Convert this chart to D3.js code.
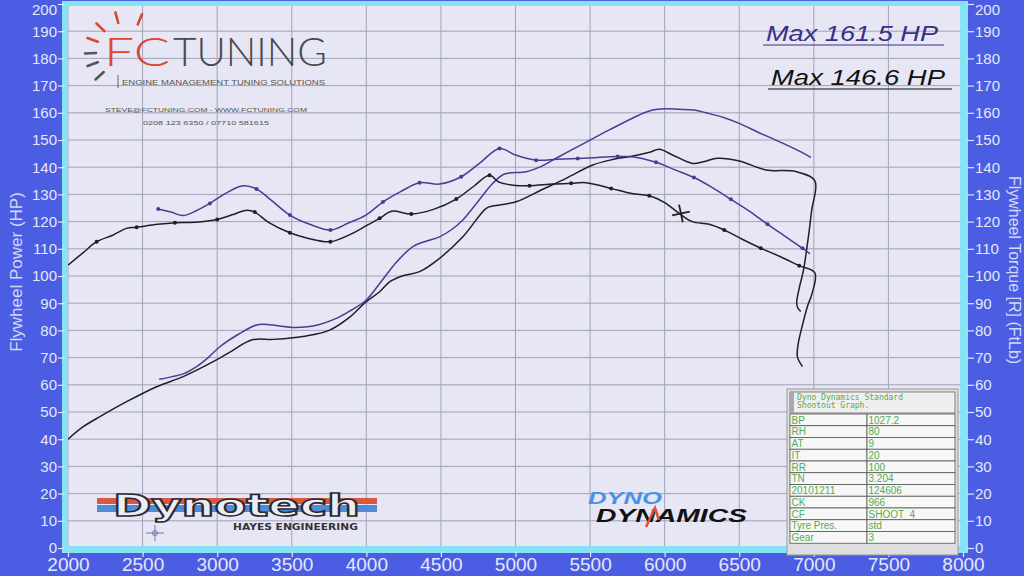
<!DOCTYPE html>
<html><head><meta charset="utf-8">
<script src="https://cdn.jsdelivr.net/npm/d3@7"></script>
<style>html,body{margin:0;padding:0;background:#4b5de3;overflow:hidden}svg{display:block}</style>
</head><body><svg id="c" width="1024" height="576"></svg>
<script>
// ---------- DATA ----------
const rpmTicks = [2000,2500,3000,3500,4000,4500,5000,5500,6000,6500,7000,7500,8000];
const valueTicks = [0,10,20,30,40,50,60,70,80,90,100,110,120,130,140,150,160,170,180,190,200];

const blackPowerRpm = [2000,2100,2214,2393,2594,2772,2973,3100,3230,3375,3509,3650,3754,3880,4000,4089,4160,4245,4357,4491,4647,4804,4848,5004,5183,5339,5518,5650,5786,5900,5964,6053,6187,6260,6355,6500,6679,6880,7007,6985,6960,6930,6900,6885,6895,6912];
const blackPowerHp  = [40,44.5,48.3,53.8,59.3,63,68.5,72.5,76.5,76.7,77.3,78.5,80.1,84.5,90.6,94.2,98,100.1,101.6,106.5,114.4,124.9,125.7,127.3,131.9,135.9,140.8,142.8,144.1,145.5,146.6,144.5,141.4,142,143.3,142.3,139,138.4,135,124,113,102,95,90,88,87];

const blackTorqueRpm = [2000,2100,2192,2300,2393,2460,2600,2717,2850,3000,3100,3200,3252,3350,3487,3600,3759,3900,4000,4089,4170,4301,4450,4603,4720,4826,4890,5000,5094,5250,5373,5473,5641,5780,5897,6000,6098,6185,6299,6399,6520,6645,6780,6902,7007,6985,6958,6924,6895,6890,6924];
const blackTorqueLbft = [104,108.5,112.6,115,117.5,117.9,119,119.6,119.8,120.8,122.5,124.2,123.5,119.5,115.9,114,112.6,115.5,118.5,121.2,123.8,122.8,124.5,128.3,133,137,134.5,133.3,133.2,133.8,134.1,134.3,132.2,130.3,129.5,127,123,120,119,116.9,113.5,110.2,107,103.8,101.2,93,89,82,75,70.3,66.7];
const blackTorqueDots = [2192,2460,2717,3000,3252,3487,3759,4089,4301,4603,4826,5094,5373,5641,5897,6399,6645,6902];

const purplePowerRpm = [2611,2700,2772,2862,2940,3018,3140,3264,3331,3420,3509,3643,3799,3900,4000,4100,4200,4312,4400,4491,4570,4647,4750,4848,4926,5071,5180,5272,5450,5629,5830,5919,6000,6098,6200,6277,6400,6500,6640,6768,6900,6980];
const purplePowerHp  = [62,63,64,66.7,70,74,78.5,82,82.2,81.6,81.1,81.6,84.4,87.5,91.2,98,105,110.8,112.8,114.4,117,120.6,127.5,134.1,137.5,138.3,140.5,143.3,148.5,153.7,159.2,161,161.5,161.3,161,160,158.2,156.1,152.5,149.4,146,143.6];

const purpleTorqueRpm = [2605,2690,2772,2860,2951,3060,3174,3264,3370,3487,3620,3759,3880,4000,4111,4230,4357,4491,4636,4760,4893,5000,5138,5280,5417,5550,5685,5763,5942,6070,6196,6320,6444,6570,6690,6810,6924,6975];
const purpleTorqueLbft = [124.6,123.5,122.2,124,126.7,130.5,133.2,132,127.5,122.4,119,116.9,119.5,122.5,127.2,131,134.3,133.8,136.5,141.5,146.9,144.5,142.6,142.9,143.2,143.6,143.9,143.9,141.8,139,136.2,132.5,128.2,123.8,119,114.5,110.2,108.1];
const purpleTorqueDots = [2605,2951,3264,3487,3759,4111,4357,4636,4893,5138,5417,5685,5942,6196,6444,6690,6924];

const cursorPoint = [6109, 123];
const smallCursorPoint = [2583, 5.5];

const maxLabels = ["Max 161.5 HP", "Max 146.6 HP"];
const tableTitle = ["Dyno Dynamics Standard", "Shootout Graph."];
const tableLabels = ["BP","RH","AT","IT","RR","TN","20101211","CK","CF","Tyre Pres.","Gear"];
const tableValues = ["1027.2","80","9","20","100","3.204","124606","966","SHOOT_4","std","3"];

// ---------- DRAW ----------
const svg = d3.select("#c");
const W = 1024, H = 576;
const x = d3.scaleLinear().domain([2000, 8000]).range([68, 963]);
const y = d3.scaleLinear().domain([0, 200]).range([548, 4]);

const BLUE = "#4b5de3", CYAN = "#86e2f5", PLOT = "#e6e6f5", GRID = "#a2a2ba";
const LABEL = "#e6e8fa";
const BLACK = "#1f1f2a", PURPLE = "#4a3d90";

svg.append("rect").attr("width", W).attr("height", H).attr("fill", BLUE);
svg.append("rect").attr("x", 62).attr("y", 1).attr("width", 906).attr("height", 552).attr("fill", CYAN);
svg.append("rect").attr("x", 68).attr("y", 6).attr("width", 892).attr("height", 540).attr("fill", PLOT);

svg.append("clipPath").attr("id", "pc").append("rect").attr("x", 68).attr("y", 6).attr("width", 892).attr("height", 540);

// grid
const grid = svg.append("g").attr("clip-path", "url(#pc)");
grid.selectAll("line.v").data(rpmTicks).join("line")
  .attr("x1", d => x(d)).attr("x2", d => x(d)).attr("y1", 0).attr("y2", 550)
  .attr("stroke", GRID).attr("stroke-width", 1);
grid.selectAll("line.h").data(valueTicks).join("line")
  .attr("y1", d => y(d)).attr("y2", d => y(d)).attr("x1", 60).attr("x2", 970)
  .attr("stroke", GRID).attr("stroke-width", 1);

// axes
function styleAxis(g, size, family) {
  g.select(".domain").remove();
  g.selectAll(".tick line").attr("stroke", LABEL).attr("stroke-width", 1.2);
  g.selectAll(".tick text").attr("fill", LABEL).attr("font-size", size).attr("font-family", family);
}
function nudgeTop(g) {
  g.selectAll(".tick").filter(d => d === 200).select("text").attr("dy", "0.68em");
}
svg.append("g").attr("transform", "translate(64,0)")
  .call(d3.axisLeft(y).tickValues(valueTicks).tickSize(6).tickPadding(1))
  .call(g => styleAxis(g, 15, "Liberation Sans, Arial, sans-serif")).call(nudgeTop);
svg.append("g").attr("transform", "translate(967,0)")
  .call(d3.axisRight(y).tickValues(valueTicks).tickSize(7).tickPadding(1))
  .call(g => styleAxis(g, 15, "Liberation Sans, Arial, sans-serif")).call(nudgeTop);
svg.append("g").attr("transform", "translate(0,552)")
  .call(d3.axisBottom(x).tickValues(rpmTicks).tickFormat(d3.format("d")).tickSize(5).tickPadding(1))
  .call(g => styleAxis(g, 19, "Liberation Sans Narrow, Arial Narrow, sans-serif"));

// axis titles
svg.append("text").attr("transform", "translate(22,272) rotate(-90)")
  .attr("text-anchor", "middle").attr("fill", "#d4d8f6")
  .attr("font-family", "Liberation Sans, Arial, sans-serif").attr("font-size", 17)
  .text("Flywheel Power (HP)");
svg.append("text").attr("transform", "translate(1009,270) rotate(90)")
  .attr("text-anchor", "middle").attr("fill", "#d4d8f6")
  .attr("font-family", "Liberation Sans, Arial, sans-serif").attr("font-size", 16)
  .text("Flywheel Torque [R] (FtLb)");

// ---------- FC TUNING logo ----------
const logo = svg.append("g");
const rays = [[-105,"#d9472f"],[-136,"#d9472f"],[-67,"#d9472f"],[-160,"#d9472f"],[178,"#555"],[160,"#555"],[138,"#555"]];
const cx0 = 126, cy0 = 52;
rays.forEach(([a, c]) => {
  const r = a * Math.PI / 180;
  logo.append("line")
    .attr("x1", cx0 + 30 * Math.cos(r)).attr("y1", cy0 + 30 * Math.sin(r))
    .attr("x2", cx0 + 41 * Math.cos(r)).attr("y2", cy0 + 41 * Math.sin(r))
    .attr("stroke", c).attr("stroke-width", 2.6).attr("stroke-linecap", "round");
});
logo.append("text").attr("x", 104).attr("y", 66).attr("font-family", "Lato, Open Sans, sans-serif")
  .attr("font-weight", 300).attr("font-size", 39).attr("fill", "#d9472f")
  .attr("textLength", 66).attr("lengthAdjust", "spacingAndGlyphs").text("FC");
logo.append("text").attr("x", 173).attr("y", 66).attr("font-family", "Lato, Open Sans, sans-serif")
  .attr("font-weight", 300).attr("font-size", 39).attr("fill", "#4a4a4a")
  .attr("textLength", 154).attr("lengthAdjust", "spacingAndGlyphs").text("TUNING");
logo.append("line").attr("x1", 118).attr("x2", 118).attr("y1", 75).attr("y2", 88).attr("stroke", "#666").attr("stroke-width", 1);
logo.append("text").attr("x", 122).attr("y", 85).attr("font-family", "Liberation Sans, Arial, sans-serif")
  .attr("font-size", 7.5).attr("fill", "#555").attr("textLength", 203).attr("lengthAdjust", "spacingAndGlyphs")
  .text("ENGINE MANAGEMENT TUNING SOLUTIONS");
logo.append("text").attr("x", 105).attr("y", 112).attr("font-family", "Liberation Sans, Arial, sans-serif")
  .attr("font-size", 6).attr("fill", "#555").attr("textLength", 202).attr("lengthAdjust", "spacingAndGlyphs")
  .text("STEVE@FCTUNING.COM   -   WWW.FCTUNING.COM");
logo.append("text").attr("x", 143).attr("y", 125).attr("font-family", "Liberation Sans, Arial, sans-serif")
  .attr("font-size", 6).attr("fill", "#555").attr("textLength", 126).attr("lengthAdjust", "spacingAndGlyphs")
  .text("0208 123 6350 / 07710 581615");

// ---------- Dynotech logo ----------
const dt = svg.append("g");
dt.append("rect").attr("x", 97).attr("y", 498).attr("width", 280).attr("height", 6).attr("fill", "#d9583f");
dt.append("rect").attr("x", 97).attr("y", 505).attr("width", 280).attr("height", 7).attr("fill", "#4f8bd6");
dt.append("text").attr("x", 113).attr("y", 516).attr("font-family", "DejaVu Sans, sans-serif")
  .attr("font-weight", "bold").attr("font-size", 31).attr("fill", "#ececf2").attr("stroke", "#2a2a35")
  .attr("stroke-width", 1.6).attr("textLength", 247).attr("lengthAdjust", "spacingAndGlyphs").text("Dynotech");
dt.append("text").attr("x", 233).attr("y", 530).attr("font-family", "DejaVu Sans, sans-serif")
  .attr("font-weight", "bold").attr("font-size", 8.5).attr("fill", "#333")
  .attr("textLength", 125).attr("lengthAdjust", "spacingAndGlyphs").text("HAYES ENGINEERING");

// ---------- Dyno Dynamics logo ----------
const dd = svg.append("g");
dd.append("text").attr("x", 588).attr("y", 504).attr("font-family", "Liberation Sans, Arial, sans-serif")
  .attr("font-weight", "bold").attr("font-style", "italic").attr("font-size", 16).attr("fill", "#4a93e4")
  .attr("textLength", 74).attr("lengthAdjust", "spacingAndGlyphs").text("DYNO");
dd.append("text").attr("x", 596).attr("y", 522).attr("font-family", "Liberation Sans, Arial, sans-serif")
  .attr("font-weight", "bold").attr("font-style", "italic").attr("font-size", 18).attr("fill", "#111")
  .attr("textLength", 151).attr("lengthAdjust", "spacingAndGlyphs").text("DYNAMICS");
dd.append("path").attr("d", "M646,527 L655,508 L659,520").attr("fill", "none").attr("stroke", "#e0512f").attr("stroke-width", 2.5);

// ---------- Max labels ----------
const maxG = svg.append("g").attr("font-family", "Liberation Sans, Arial, sans-serif").attr("font-style", "italic").attr("font-size", 22);
maxG.append("text").attr("x", 766).attr("y", 41).attr("fill", "#3a2f88")
  .attr("textLength", 172).attr("lengthAdjust", "spacingAndGlyphs").text(maxLabels[0]);
maxG.append("line").attr("x1", 763).attr("x2", 944).attr("y1", 45).attr("y2", 45).attr("stroke", "#3a2f88").attr("stroke-width", 1.2);
maxG.append("text").attr("x", 771).attr("y", 85).attr("fill", "#111")
  .attr("textLength", 174).attr("lengthAdjust", "spacingAndGlyphs").text(maxLabels[1]);
maxG.append("line").attr("x1", 768).attr("x2", 952).attr("y1", 89).attr("y2", 89).attr("stroke", "#111").attr("stroke-width", 1.2);

// ---------- curves ----------
const curves = svg.append("g").attr("clip-path", "url(#pc)");
function drawCurve(rpms, vals, color, dots) {
  const pts = rpms.map((r, i) => [r, vals[i]]);
  curves.append("path").datum(pts)
    .attr("d", d3.line().x(d => x(d[0])).y(d => y(d[1])).curve(d3.curveCatmullRom.alpha(0.5)))
    .attr("fill", "none").attr("stroke", color).attr("stroke-width", 1.5).attr("stroke-linejoin", "round");
  if (dots) {
    const dp = dots.map(r => pts.find(p => p[0] === r)).filter(Boolean);
    curves.selectAll(null).data(dp).join("circle")
      .attr("cx", d => x(d[0])).attr("cy", d => y(d[1])).attr("r", 2).attr("fill", color);
  }
}
drawCurve(blackPowerRpm, blackPowerHp, BLACK);
drawCurve(purplePowerRpm, purplePowerHp, PURPLE);
drawCurve(blackTorqueRpm, blackTorqueLbft, BLACK, blackTorqueDots);
drawCurve(purpleTorqueRpm, purpleTorqueLbft, PURPLE, purpleTorqueDots);

// cursor marks
const cxp = x(cursorPoint[0]), cyp = y(cursorPoint[1]);
const cur = svg.append("g").attr("transform", `translate(${cxp},${cyp}) rotate(-12)`);
cur.append("line").attr("x1", -9).attr("x2", 9).attr("y1", 0).attr("y2", 0).attr("stroke", "#222").attr("stroke-width", 1.8);
cur.append("line").attr("x1", 0).attr("x2", 0).attr("y1", -9).attr("y2", 9).attr("stroke", "#222").attr("stroke-width", 1.8);
const sx = x(smallCursorPoint[0]), sy = y(smallCursorPoint[1]);
const sc = svg.append("g").attr("stroke", "#7a74b0").attr("stroke-width", 1).attr("fill", "none");
sc.append("circle").attr("cx", sx).attr("cy", sy).attr("r", 2.5);
sc.append("line").attr("x1", sx - 9).attr("x2", sx + 9).attr("y1", sy).attr("y2", sy);
sc.append("line").attr("x1", sx).attr("x2", sx).attr("y1", sy - 8).attr("y2", sy + 8);

// ---------- info table ----------
const tb = svg.append("g").attr("font-family", "DejaVu Sans Mono, Liberation Mono, monospace");
const tx = 790, tw = 165, split = 867, ty = 392;
tb.append("rect").attr("x", tx - 3).attr("y", ty - 3).attr("width", tw + 6).attr("height", 166).attr("fill", "#dedee0").attr("stroke", "#999");
tb.append("rect").attr("x", tx).attr("y", ty).attr("width", tw).attr("height", 21).attr("fill", "#efeff0").attr("stroke", "#666").attr("stroke-width", 0.8);
tb.append("rect").attr("x", tx).attr("y", ty).attr("width", 4).attr("height", 21).attr("fill", "#a8a8ac");
tableTitle.forEach((t, i) => tb.append("text").attr("x", tx + 7).attr("y", ty + 8 + i * 8)
  .attr("font-size", 8).attr("fill", "#4fae4f").text(t));
const rh = 11.75, r0 = ty + 22;
tableLabels.forEach((lab, i) => {
  const yy = r0 + i * rh;
  tb.append("rect").attr("x", tx).attr("y", yy).attr("width", split - tx).attr("height", rh).attr("fill", "#f7f7f7").attr("stroke", "#555").attr("stroke-width", 0.8);
  tb.append("rect").attr("x", split).attr("y", yy).attr("width", tx + tw - split).attr("height", rh).attr("fill", "#f7f7f7").attr("stroke", "#555").attr("stroke-width", 0.8);
  tb.append("text").attr("x", tx + 1.5).attr("y", yy + 9.5).attr("font-family", "Liberation Sans, Arial, sans-serif").attr("font-size", 10).attr("fill", "#4fae4f").text(lab);
  tb.append("text").attr("x", split + 1.5).attr("y", yy + 9.5).attr("font-family", "Liberation Sans, Arial, sans-serif").attr("font-size", 10).attr("fill", "#4fae4f").text(tableValues[i]);
});
</script></body></html>
